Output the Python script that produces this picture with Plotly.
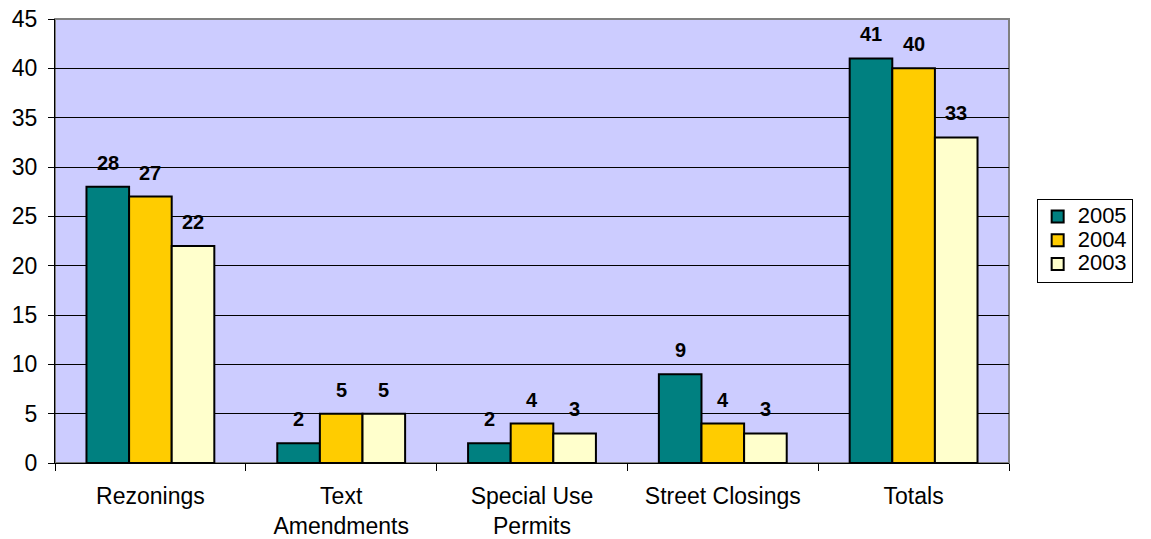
import plotly.graph_objects as go

categories = ["Rezonings", "Text<br>Amendments", "Special Use<br>Permits", "Street Closings", "Totals"]
years = ["2005", "2004", "2003"]
v2005 = [28, 2, 2, 9, 41]
v2004 = [27, 5, 4, 4, 40]
v2003 = [22, 5, 3, 3, 33]
colors = ["#008080", "#FFCC00", "#FFFFCC"]

BARGAP = 0.33
FONT = "Liberation Sans, Arial"

fig = go.Figure()
series = [v2005, v2004, v2003]
for name, vals, col in zip(years, series, colors):
    fig.add_trace(go.Bar(
        name=f"<span style='font-size:22px'>{name}</span>", x=categories, y=vals,
        marker=dict(color=col, line=dict(color="black", width=2)),
    ))

# data labels above each bar
n = len(series)
bw = (1 - BARGAP) / n
annotations = []
for j, vals in enumerate(series):
    for i, v in enumerate(vals):
        annotations.append(dict(
            x=i + (j - (n - 1) / 2) * bw, y=v, xref="x", yref="y",
            text=f"<b>{v}</b>", showarrow=False,
            yanchor="middle", yshift=24,
            font=dict(family=FONT, size=20, color="black"),
        ))

fig.update_layout(
    width=1151, height=539,
    margin=dict(l=55, r=142, t=19, b=76, autoexpand=False),
    paper_bgcolor="white", plot_bgcolor="#CCCCFF",
    barmode="group", bargap=BARGAP, bargroupgap=0,
    font=dict(family=FONT, size=23, color="black"),
    legend=dict(x=1.029, y=0.501, xanchor="left", yanchor="middle",
                bordercolor="black", borderwidth=1, bgcolor="white",
                font=dict(size=16), tracegroupgap=0, itemwidth=30,
                entrywidth=112, entrywidthmode="pixels"),
    annotations=annotations,
    shapes=[dict(type="rect", xref="paper", yref="paper", x0=0, x1=1, y0=0, y1=1,
                 line=dict(color="#808080", width=2), layer="below")],
)
fig.update_xaxes(showline=True, linecolor="black", linewidth=1, automargin=False,
                 ticks="outside", tickson="boundaries", ticklen=7, tickcolor="black",
                 tickfont=dict(size=23), showgrid=False, ticklabelstandoff=12)
fig.update_yaxes(range=[0, 45], dtick=5, showline=True, linecolor="black", linewidth=1,
                 automargin=False,
                 ticks="outside", ticklen=6, tickcolor="black",
                 gridcolor="black", gridwidth=1, zeroline=False,
                 tickfont=dict(size=23), ticklabelstandoff=6)

fig.write_html("out.html")
